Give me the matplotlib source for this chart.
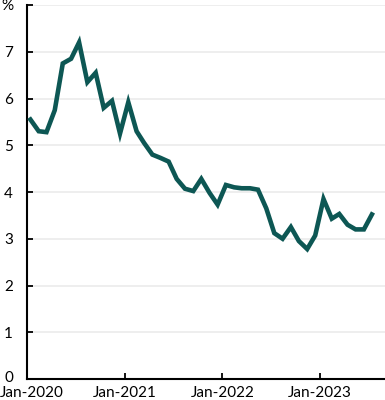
import numpy as np
import pandas as pd
import matplotlib
matplotlib.use('Agg')
import matplotlib.pyplot as plt
import matplotlib.dates as mdates
from matplotlib.transforms import ScaledTranslation

# monthly values, Jan-2020 to Jul-2023 (%)
months = pd.date_range('2020-01-01', '2023-07-01', freq='MS')
values = [5.55, 5.30, 5.28, 5.75, 6.75, 6.85, 7.20, 6.35, 6.55, 5.80, 5.95, 5.25,
          5.92, 5.30, 5.05, 4.80, 4.73, 4.65, 4.28, 4.07, 4.02, 4.28, 3.98, 3.73,
          4.15, 4.10, 4.08, 4.08, 4.05, 3.65, 3.12, 3.00, 3.25, 2.95, 2.78, 3.07,
          3.85, 3.43, 3.53, 3.30, 3.20, 3.20, 3.52]
y_ticks = [0, 1, 2, 3, 4, 5, 6, 7, 8]
y_labels = ['0', '1', '2', '3', '4', '5', '6', '7', '%']
x_ticks = pd.to_datetime(['2020-01-01', '2021-01-01', '2022-01-01', '2023-01-01'])

plt.rcParams['font.family'] = ['Lato', 'DejaVu Sans']

fig = plt.figure(figsize=(3.85, 4.0), dpi=100)
ax = fig.add_axes([0.070, 0.0525, 0.930, 0.935])

# points sit mid-month
dates = months + pd.Timedelta(days=13)
ax.plot(dates, values, color='#0d5754', lw=3.3, solid_joinstyle='miter', zorder=3)

ax.set_xlim(pd.Timestamp('2020-01-01'), pd.Timestamp('2023-09-01'))
ax.set_ylim(0, 8)
ax.set_xticks(x_ticks)
ax.xaxis.set_major_formatter(mdates.DateFormatter('%b-%Y'))
ax.set_yticks(y_ticks)
ax.set_yticklabels(y_labels)

ax.grid(axis='y', color='#ebebeb', lw=1.2)
ax.set_axisbelow(True)
for side in ['top', 'right']:
    ax.spines[side].set_visible(False)
for side in ['left', 'bottom']:
    ax.spines[side].set_linewidth(1.5)
    ax.spines[side].set_color('black')

ax.tick_params(axis='both', direction='in', length=4, width=1.3, labelsize=11, colors='black')
ax.tick_params(axis='y', pad=10)
ax.tick_params(axis='x', pad=5)

# keep the first date label inside the figure
first = ax.get_xticklabels()[0]
first.set_ha('left')
first.set_transform(first.get_transform() + ScaledTranslation(-0.27, 0, fig.dpi_scale_trans))

# lift the zero label a little so it clears the date below
zero = ax.get_yticklabels()[0]
zero.set_va('bottom')
zero.set_transform(zero.get_transform() + ScaledTranslation(0, -0.065, fig.dpi_scale_trans))

fig.savefig('out.png', dpi=100)
